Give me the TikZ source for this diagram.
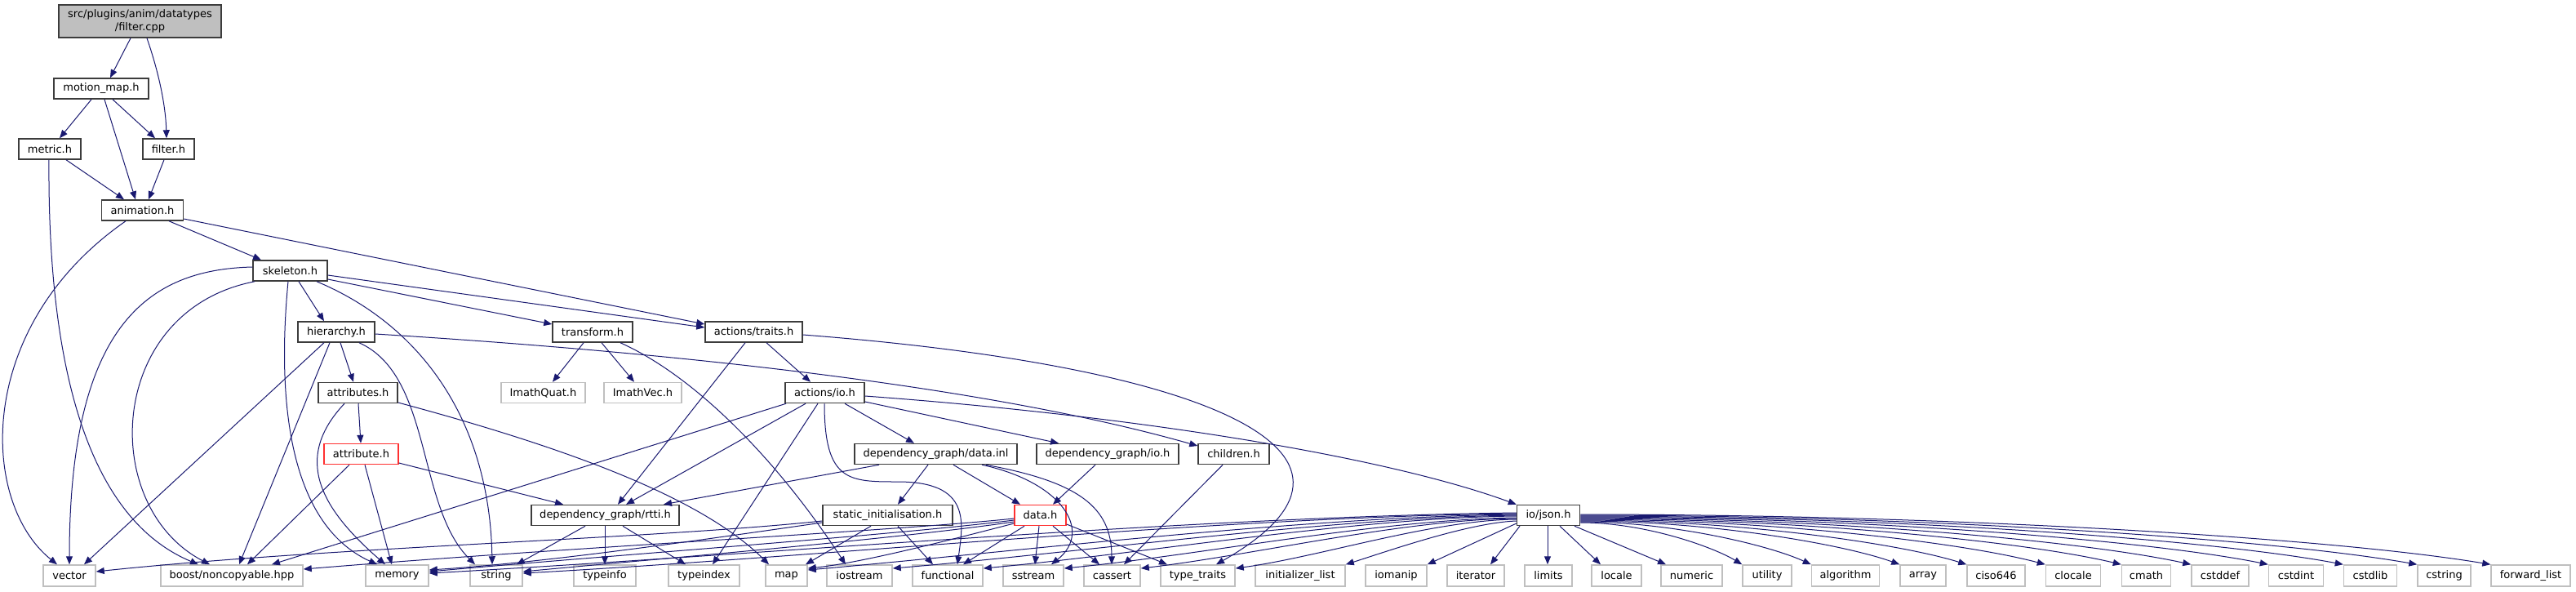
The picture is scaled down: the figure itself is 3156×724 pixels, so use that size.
\documentclass[tikz,border=0pt]{standalone}
\usepackage{fontspec}
\setmainfont{DejaVu Sans}
\usetikzlibrary{arrows.meta}
\definecolor{edgec}{HTML}{191970}
\definecolor{docb}{HTML}{3C3C3C}
\definecolor{extb}{HTML}{BFBFBF}
\definecolor{redb}{HTML}{FF3030}
\tikzset{
  box/.style={draw, line width=0.75pt, inner sep=0pt, minimum height=12.5pt, fill=white, text=black, font=\fontsize{6.5}{7.8}\selectfont},
  doc/.style={box, draw=docb},
  ext/.style={box, draw=extb, minimum height=13pt},
  trunc/.style={box, draw=redb},
  top/.style={box, draw=docb, fill=extb, minimum height=20pt, align=center},
  e/.style={draw=edgec, line width=0.5pt, -{Triangle[length=5pt,width=4pt]}, fill=none},
}
\begin{document}
\begin{tikzpicture}[x=0.5pt,y=-0.5pt]
\fill[white] (0,0) rectangle (3156,724);
\useasboundingbox (0,0) rectangle (3156,724);
% nodes
\node[top, minimum width=99.5pt] (fcpp) at (171.5,26) {src/plugins/anim/datatypes\\/filter.cpp};
\node[doc, minimum width=58pt] (motionmap) at (124,108.5) {motion\_map.h};
\node[doc, minimum width=38pt] (metric) at (61,182.5) {metric.h};
\node[doc, minimum width=31.5pt] (filterh) at (206.5,182.5) {filter.h};
\node[doc, minimum width=50pt] (animation) at (174.5,257.5) {animation.h};
\node[doc, minimum width=45.5pt] (skeleton) at (355.5,331.5) {skeleton.h};
\node[doc, minimum width=47pt] (hierarchy) at (412,406.5) {hierarchy.h};
\node[doc, minimum width=49pt] (transform) at (726,406.5) {transform.h};
\node[doc, minimum width=59.5pt] (traits) at (923.5,406.5) {actions/traits.h};
\node[doc, minimum width=48.5pt] (attributes) at (438.5,481) {attributes.h};
\node[ext, minimum width=51.5pt, minimum height=12.5pt] (imathquat) at (665.5,481) {ImathQuat.h};
\node[ext, minimum width=47.5pt, minimum height=12.5pt] (imathvec) at (787.5,481) {ImathVec.h};
\node[doc, minimum width=48.5pt] (actionsio) at (1010.5,481) {actions/io.h};
\node[trunc, minimum width=45.5pt] (attribute) at (442.5,556) {attribute.h};
\node[doc, minimum width=99.5pt] (datainl) at (1146.5,556) {dependency\_graph/data.inl};
\node[doc, minimum width=87pt] (dgio) at (1357,556) {dependency\_graph/io.h};
\node[doc, minimum width=43.5pt] (children) at (1511.5,556) {children.h};
\node[doc, minimum width=90.5pt] (rtti) at (741.5,631) {dependency\_graph/rtti.h};
\node[doc, minimum width=79.5pt] (staticinit) at (1087.5,631) {static\_initialisation.h};
\node[trunc, minimum width=31.5pt] (datah) at (1274.5,631) {data.h};
\node[doc, minimum width=38.5pt] (json) at (1897,631) {io/json.h};
% bottom row
\node[ext, minimum width=32pt] (vector) at (85,705) {vector};
\node[ext, minimum width=87pt] (boost) at (284,705) {boost/noncopyable.hpp};
\node[ext, minimum width=38.5pt] (memory) at (486.5,705) {memory};
\node[ext, minimum width=32pt] (string) at (608,705) {string};
\node[ext, minimum width=38pt] (typeinfo) at (741,705) {typeinfo};
\node[ext, minimum width=43.5pt] (typeindex) at (862.5,705) {typeindex};
\node[ext, minimum width=25.5pt] (map) at (963.5,705) {map};
\node[ext, minimum width=40pt] (iostream) at (1053,705) {iostream};
\node[ext, minimum width=43pt] (functional) at (1161,705) {functional};
\node[ext, minimum width=37pt] (sstream) at (1266,705) {sstream};
\node[ext, minimum width=34.5pt] (cassert) at (1362.5,705) {cassert};
\node[ext, minimum width=45.5pt] (typetraits) at (1467.5,705) {type\_traits};
\node[ext, minimum width=55pt] (initlist) at (1593,705) {initializer\_list};
\node[ext, minimum width=37.5pt] (iomanip) at (1710.5,705) {iomanip};
\node[ext, minimum width=35pt] (iterator) at (1808,705) {iterator};
\node[ext, minimum width=29pt] (limits) at (1897,705) {limits};
\node[ext, minimum width=30.5pt] (locale) at (1980.5,705) {locale};
\node[ext, minimum width=37.5pt] (numeric) at (2072.5,705) {numeric};
\node[ext, minimum width=30pt] (utility) at (2165,705) {utility};
\node[ext, minimum width=41.5pt] (algorithm) at (2261,705) {algorithm};
\node[ext, minimum width=28pt] (array) at (2356,705) {array};
\node[ext, minimum width=35.5pt] (ciso) at (2445.5,705) {ciso646};
\node[ext, minimum width=33.5pt] (clocale) at (2540,705) {clocale};
\node[ext, minimum width=30pt] (cmath) at (2629.5,705) {cmath};
\node[ext, minimum width=35pt] (cstddef) at (2720,705) {cstddef};
\node[ext, minimum width=33.5pt] (cstdint) at (2813,705) {cstdint};
\node[ext, minimum width=32.5pt] (cstdlib) at (2904,705) {cstdlib};
\node[ext, minimum width=32.5pt] (cstring) at (2994.5,705) {cstring};
\node[ext, minimum width=48.5pt] (fwdlist) at (3100.5,705) {forward\_list};
% edges
\draw[e] (fcpp.south -| 160,0) -- (motionmap.north -| 135,0);
\draw[e] (fcpp.south -| 180,0) .. controls (195,90) and (203,130) .. (filterh.north -| 204,0);
\draw[e] (motionmap.south -| 112,0) -- (metric.north -| 73,0);
\draw[e] (motionmap.south -| 128,0) -- (animation.north -| 166,0);
\draw[e] (motionmap.south -| 138,0) -- (filterh.north -| 190,0);
\draw[e] (metric.south -| 81,0) -- (animation.north -| 152,0);
\draw[e] (metric.south -| 60,0) .. controls (58,480) and (120,640) .. (boost.north -| 243,0);
\draw[e] (filterh.south -| 201,0) -- (animation.north -| 182,0);
\draw[e] (animation.south -| 154,0) .. controls (-32,400) and (-25,615) .. (vector.north -| 70,0);
\draw[e] (animation.south -| 207,0) -- (skeleton.north -| 320,0);
\draw[e] (animation.east |- 0,268) -- (traits.west |- 0,397);
\draw[e] (skeleton.west |- 0,327) .. controls (180,330) and (85,400) .. (vector.north -| 85,0);
\draw[e] (skeleton.south -| 312,0) .. controls (130,380) and (120,620) .. (boost.north -| 257,0);
\draw[e] (skeleton.south -| 353,0) .. controls (340,480) and (350,640) .. (memory.north -| 462,0);
\draw[e] (skeleton.south -| 366,0) -- (hierarchy.north -| 397,0);
\draw[e] (skeleton.south -| 388,0) .. controls (520,400) and (600,520) .. (string.north -| 603,0);
\draw[e] (skeleton.east |- 0,342) -- (transform.west |- 0,397);
\draw[e] (skeleton.east |- 0,337) -- (traits.west |- 0,401);
\draw[e] (hierarchy.south -| 397,0) -- (vector.north -| 103,0);
\draw[e] (hierarchy.south -| 404,0) -- (boost.north -| 293,0);
\draw[e] (hierarchy.south -| 417,0) -- (attributes.north -| 433,0);
\draw[e] (hierarchy.south -| 440,0) .. controls (530,460) and (510,620) .. (string.north -| 582,0);
\draw[e] (hierarchy.east |- 0,409) .. controls (800,430) and (1200,470) .. (children.west |- 0,546);
\draw[e] (attributes.south -| 439,0) -- (attribute.north -| 442,0);
\draw[e] (attributes.south -| 422,0) .. controls (360,560) and (390,620) .. (memory.north -| 472,0);
\draw[e] (attributes.east |- 0,493) .. controls (700,550) and (860,610) .. (map.north -| 942,0);
\draw[e] (attribute.south -| 428,0) -- (boost.north -| 303,0);
\draw[e] (attribute.south -| 447,0) -- (memory.north -| 480,0);
\draw[e] (attribute.east |- 0,567) -- (rtti.north -| 690,0);
\draw[e] (transform.south -| 715,0) -- (imathquat.north -| 677,0);
\draw[e] (transform.south -| 737,0) -- (imathvec.north -| 777,0);
\draw[e] (transform.south -| 760,0) .. controls (850,460) and (950,560) .. (iostream.north -| 1036,0);
\draw[e] (traits.south -| 913,0) -- (rtti.north -| 757,0);
\draw[e] (traits.south -| 939,0) -- (actionsio.north -| 993,0);
\draw[e] (traits.east |- 0,410) .. controls (1500,450) and (1720,560) .. (typetraits.north -| 1490,0);
\draw[e] (actionsio.south -| 963,0) -- (boost.north -| 333,0);
\draw[e] (actionsio.south -| 987,0) -- (rtti.north -| 767,0);
\draw[e] (actionsio.south -| 1002,0) -- (typeindex.north -| 873,0);
\draw[e] (actionsio.south -| 1010,0) .. controls (1010,590) and (1040,590) .. (1100,590) .. controls (1190,590) and (1180,640) .. (functional.north -| 1173,0);
\draw[e] (actionsio.south -| 1035,0) -- (datainl.north -| 1120,0);
\draw[e] (actionsio.east |- 0,492) -- (dgio.north -| 1297,0);
\draw[e] (actionsio.east |- 0,485) .. controls (1400,510) and (1700,560) .. (json.north west);
\draw[e] (datainl.south -| 1077,0) -- (rtti.north -| 813,0);
\draw[e] (datainl.south -| 1137,0) -- (staticinit.north -| 1100,0);
\draw[e] (datainl.south -| 1168,0) -- (datah.north -| 1250,0);
\draw[e] (datainl.south -| 1203,0) .. controls (1300,590) and (1340,650) .. (sstream.north -| 1288,0);
\draw[e] (datainl.south -| 1208,0) .. controls (1320,590) and (1362,620) .. (cassert.north -| 1362,0);
\draw[e] (dgio.south -| 1342,0) -- (datah.north -| 1290,0);
\draw[e] (children.south -| 1498,0) -- (cassert.north -| 1377,0);
\draw[e] (rtti.south -| 717,0) -- (string.north -| 633,0);
\draw[e] (rtti.south -| 741,0) -- (typeinfo.north -| 741,0);
\draw[e] (rtti.south -| 763,0) -- (typeindex.north -| 840,0);
\draw[e] (staticinit.west |- 0,638) .. controls (800,660) and (400,670) .. (vector.east |- 0,700);
\draw[e] (staticinit.west |- 0,640) .. controls (800,670) and (650,690) .. (memory.east |- 0,698);
\draw[e] (staticinit.south -| 1067,0) -- (map.north -| 987,0);
\draw[e] (staticinit.south -| 1100,0) -- (functional.north -| 1143,0);
\draw[e] (datah.west |- 0,635) .. controls (1100,650) and (700,670) .. (boost.east |- 0,697);
\draw[e] (datah.west |- 0,637) .. controls (1100,655) and (750,680) .. (memory.east |- 0,700);
\draw[e] (datah.west |- 0,639) .. controls (1100,660) and (800,685) .. (string.east |- 0,700);
\draw[e] (datah.west |- 0,641) .. controls (1150,665) and (1050,690) .. (map.east |- 0,696);
\draw[e] (datah.south -| 1255,0) -- (functional.north -| 1180,0);
\draw[e] (datah.south -| 1273,0) -- (sstream.north -| 1268,0);
\draw[e] (datah.south -| 1290,0) -- (cassert.north -| 1347,0);
\draw[e] (datah.east |- 0,642) -- (typetraits.north -| 1430,0);
% io/json.h to the left
\draw[e] (json.west |- 0,628) .. controls (1458,633) and (925,680) .. (memory.east |- 0,702);
\draw[e] (json.west |- 0,629) .. controls (1493,633) and (1005,682) .. (string.east |- 0,702);
\draw[e] (json.west |- 0,630) .. controls (1597,633) and (1250,675) .. (map.east |- 0,698);
\draw[e] (json.west |- 0,631) .. controls (1628,634) and (1323,677) .. (iostream.east |- 0,696);
\draw[e] (json.west |- 0,632) .. controls (1662,634) and (1400,678) .. (functional.east |- 0,696);
\draw[e] (json.west |- 0,634) .. controls (1691,636) and (1470,680) .. (sstream.east |- 0,696);
\draw[e] (json.west |- 0,635) .. controls (1720,636) and (1535,680) .. (cassert.east |- 0,696);
\draw[e] (json.west |- 0,636) .. controls (1754,637) and (1617,682) .. (typetraits.east |- 0,696);
\draw[e] (json.west |- 0,638) .. controls (1800,640) and (1700,675) .. (initlist.north east);
\draw[e] (json.west |- 0,641) -- (iomanip.north east);
\draw[e] (json.south -| 1862,0) -- (iterator.north -| 1826,0);
\draw[e] (json.south -| 1896,0) -- (limits.north -| 1896,0);
\draw[e] (json.south -| 1911,0) -- (locale.north -| 1961,0);
\draw[e] (json.south -| 1929,0) -- (numeric.north -| 2041,0);
% io/json.h to the right
\draw[e] (json.east |- 0,640) .. controls (2016,640) and (2099,670) .. (utility.north west);
\draw[e] (json.east |- 0,639) .. controls (2049,639) and (2168,668) .. (algorithm.north west);
\draw[e] (json.east |- 0,638) .. controls (2093,638) and (2257,666) .. (array.north west);
\draw[e] (json.east |- 0,637) .. controls (2126,637) and (2325,665) .. (ciso.north west);
\draw[e] (json.east |- 0,636) .. controls (2164,636) and (2403,664) .. (clocale.north west);
\draw[e] (json.east |- 0,635) .. controls (2202,635) and (2480,663) .. (cmath.north west);
\draw[e] (json.east |- 0,634) .. controls (2236,634) and (2550,662) .. (cstddef.north west);
\draw[e] (json.east |- 0,633) .. controls (2274,633) and (2628,661) .. (cstdint.north west);
\draw[e] (json.east |- 0,632) .. controls (2310,632) and (2704,660) .. (cstdlib.north west);
\draw[e] (json.east |- 0,631) .. controls (2346,631) and (2777,659) .. (cstring.north west);
\draw[e] (json.east |- 0,630) .. controls (2382,630) and (2851,658) .. (fwdlist.north west);
\end{tikzpicture}
\end{document}
